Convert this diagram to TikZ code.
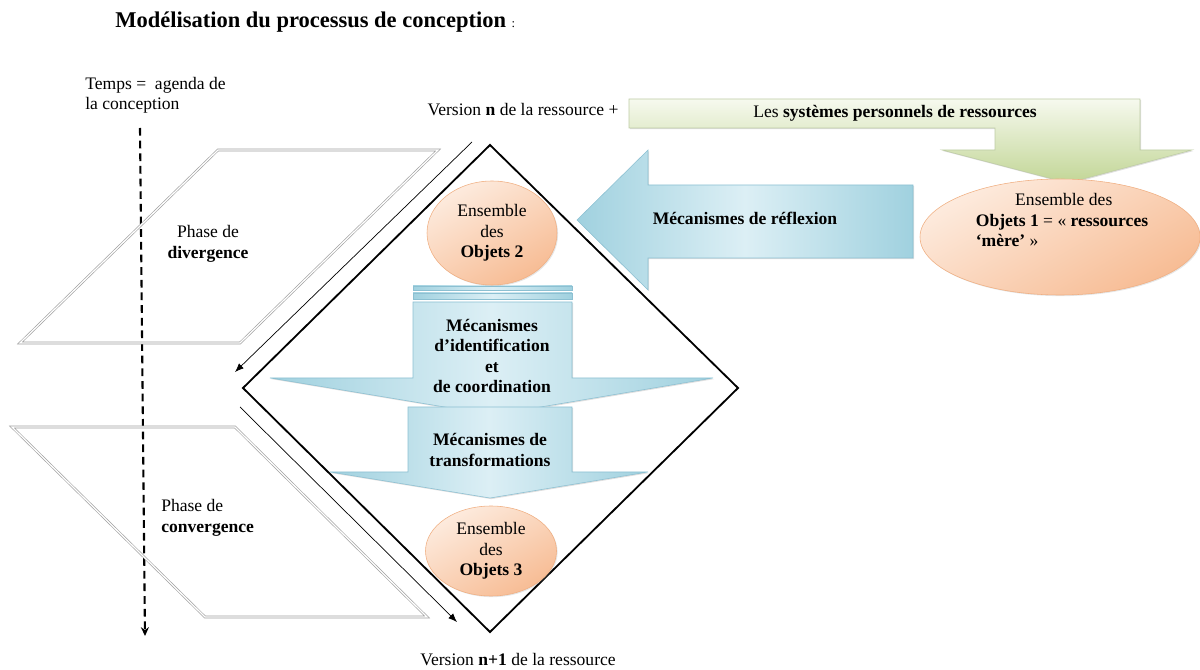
\documentclass[tikz,border=0pt]{standalone}
\usepackage{fontspec}
\setmainfont{Liberation Serif}
\usepackage{xcolor}
\definecolor{cpblue}{RGB}{160,209,223}
\definecolor{cpbluelight}{RGB}{220,239,245}
\definecolor{cpblueline}{RGB}{140,192,210}
\definecolor{cppeach}{RGB}{247,188,148}
\definecolor{cppeachlight}{RGB}{253,235,222}
\definecolor{cppeachline}{RGB}{240,175,130}
\definecolor{cpgreen}{RGB}{194,214,150}
\definecolor{cpgreenlight}{RGB}{246,249,238}
\definecolor{cpgreenline}{RGB}{190,204,165}
\usepackage{tikz}
\usetikzlibrary{arrows.meta, shapes.geometric, shadows}

\begin{document}
\begin{tikzpicture}[x=0.25mm, y=-0.25mm,
  txt/.style={font=\fontsize{12.5}{14.5}\selectfont, inner sep=0pt},
  phase/.style={draw=gray!75, double=white, double distance=0.9pt, line width=0.45pt},
  bluearrow/.style={draw=cpblueline, line width=0.4pt, left color=cpblue, right color=cpblue,
    middle color=cpbluelight, drop shadow={opacity=0.25, shadow xshift=0.8pt, shadow yshift=-0.8pt}},
  objet/.style={ellipse, draw=cppeachline, line width=0.4pt, top color=cppeachlight,
    bottom color=cppeach, shading angle=30, txt, align=center,
    drop shadow={opacity=0.2, shadow xshift=0.8pt, shadow yshift=-0.8pt}},
  thinarrow/.style={line width=0.5pt, -{Latex[length=2.2mm, width=1.7mm]}}
]
  \useasboundingbox (0,0) rectangle (1200,670);

  % Title
  \node[txt, anchor=west] (titre) at (115,22)
       {\fontsize{16}{18}\selectfont\textbf{Modélisation du processus de conception} {\small :}};

  % Time axis
  \node[txt, anchor=north west, align=left] (temps) at (85,77) {Temps = \ agenda de\\la conception};
  \coordinate (tdeb) at (140,128);
  \coordinate (tfin) at (145,636);
  \draw[line width=1.5pt, dash pattern=on 5.5pt off 3.5pt, -{Stealth[length=2.2mm, width=2mm]}] (tdeb) -- (tfin);

  % Phases
  \draw[phase] (218,150) -- (438,150) -- (240,343) -- (20,343) -- cycle;
  \node[txt, align=center] (diverg) at (208,244) {Phase de\\\textbf{divergence}};
  \draw[phase] (12,427) -- (235,427) -- (427,617) -- (205,617) -- cycle;
  \node[txt, anchor=west, align=left] (converg) at (161,518) {Phase de\\\textbf{convergence}};

  % Diamond
  \coordinate (dhaut) at (490,145);
  \coordinate (ddroite) at (738,388);
  \coordinate (dbas) at (490,632);
  \coordinate (dgauche) at (243,388);
  \draw[line width=1.3pt] (dhaut) -- (ddroite) -- (dbas) -- (dgauche) -- cycle;

  % Thin arrows along the diamond
  \coordinate (a1) at (472,142);
  \coordinate (a2) at (235,372);
  \coordinate (b1) at (240,407);
  \coordinate (b2) at (457,622);
  \draw[thinarrow] (a1) -- (a2);
  \draw[thinarrow] (b1) -- (b2);

  % Versions
  \node[txt] (versn) at (523,110) {Version \textbf{n} de la ressource +};
  \node[txt] (versn1) at (518,660) {Version \textbf{n+1} de la ressource};

  % Green banner
  \draw[draw=cpgreenline, line width=0.4pt, top color=cpgreenlight, bottom color=cpgreen,
        drop shadow={opacity=0.25, shadow xshift=0.8pt, shadow yshift=-0.8pt}]
       (629,99) -- (1140,99) -- (1140,150) -- (1192,150) -- (1068,183) -- (942,150)
       -- (995,150) -- (995,128) -- (629,128) -- cycle;
  \node[txt] (systemes) at (895,113) {Les \textbf{systèmes personnels de ressources}};

  % Objets 1
  \node[objet, minimum width=70mm, minimum height=29mm] (obj1) at (1060,237) {};
  \node[txt, align=left] (obj1txt) at (1062,220)
       {\hspace*{28pt}Ensemble des\\\textbf{Objets 1} = « \textbf{ressources}\\\textbf{‘mère’} »};

  % Reflexion arrow
  \draw[bluearrow] (913,185) -- (648,185) -- (648,150) -- (577,220) -- (648,290)
       -- (648,258) -- (913,258) -- cycle;
  \node[txt] (reflexion) at (745,218) {\textbf{Mécanismes de réflexion}};

  % Identification arrow
  \draw[bluearrow] (413,286) rectangle (572,290);
  \draw[bluearrow] (413,293) rectangle (572,299);
  \draw[bluearrow] (413,302) -- (572,302) -- (572,378) -- (713,378) -- (493,415)
       -- (270,378) -- (413,378) -- cycle;
  \node[txt, align=center] (ident) at (492,356)
       {\textbf{Mécanismes}\\\textbf{d’identification}\\\textbf{et}\\\textbf{de coordination}};

  % Transformation arrow
  \draw[bluearrow] (408,407) -- (572,407) -- (572,472) -- (648,472) -- (490,498)
       -- (330,472) -- (408,472) -- cycle;
  \node[txt, align=center] (transf) at (490,450) {\textbf{Mécanismes de}\\\textbf{transformations}};

  % Objets 2 and 3
  \node[objet, minimum width=32.5mm, minimum height=26mm] (obj2) at (492,233)
       {Ensemble\\des\\\textbf{Objets 2}};
  \node[objet, minimum width=32.75mm, minimum height=22.5mm] (obj3) at (491,551)
       {Ensemble\\des\\\textbf{Objets 3}};
\end{tikzpicture}
\end{document}
